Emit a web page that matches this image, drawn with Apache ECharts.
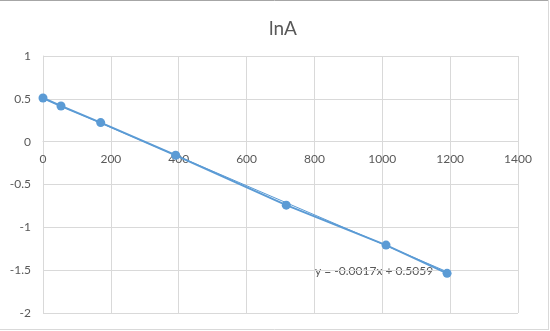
<!DOCTYPE html>
<html>
<head>
<meta charset="utf-8">
<script src="https://cdn.jsdelivr.net/npm/echarts@6/dist/echarts.min.js"></script>
<style>
  html, body { margin: 0; padding: 0; background: #fff; }
  #chart { width: 550px; height: 331px; }
</style>
</head>
<body>
<div id="chart"></div>
<script>
// Time (x) and lnA (y) measurements
const timeValues = [0, 53, 170, 391, 717, 1011, 1191];
const lnAValues = [0.51, 0.416, 0.223, -0.159, -0.741, -1.207, -1.537];

// Linear fit shown on the chart
const slope = -0.0017;
const intercept = 0.5059;
const fitLabel = 'y = -0.0017x + 0.5059';

const points = timeValues.map((t, i) => [t, lnAValues[i]]);
const tMin = timeValues[0];
const tMax = timeValues[timeValues.length - 1];
const fitLine = [[tMin, slope * tMin + intercept], [tMax, slope * tMax + intercept]];

const blue = '#5B9BD5';
const textColor = '#595959';
const gridColor = '#d9d9d9';
const font = 'Lato, "Open Sans", sans-serif';

const yMin = -2, yMax = 1;
const gridHeight = 257;
// The x axis crosses the y axis at zero: shift it up from the bottom edge
const xAxisOffset = -gridHeight * (0 - yMin) / (yMax - yMin);

const chart = echarts.init(document.getElementById('chart'), null, { renderer: 'canvas' });
chart.setOption({
  animation: false,
  backgroundColor: '#fff',
  title: {
    text: 'lnA',
    left: 278,
    top: 14,
    textAlign: 'center',
    textStyle: { color: textColor, fontSize: 19, fontWeight: 'normal', fontFamily: font }
  },
  grid: { left: 43, top: 56, width: 475, height: gridHeight, containLabel: false },
  xAxis: {
    type: 'value',
    position: 'bottom',
    offset: xAxisOffset,
    min: 0, max: 1400, interval: 200,
    axisLine: { show: true, onZero: false, lineStyle: { color: gridColor, width: 1 } },
    axisTick: { show: false },
    axisLabel: { color: textColor, fontSize: 12, fontFamily: font, margin: 11, formatter: v => String(v) },
    splitLine: { show: true, lineStyle: { color: gridColor, width: 1 } }
  },
  yAxis: {
    type: 'value',
    min: yMin, max: yMax, interval: 0.5,
    axisLine: { show: true, onZero: false, lineStyle: { color: gridColor, width: 1 } },
    axisTick: { show: false },
    axisLabel: { color: textColor, fontSize: 12, fontFamily: font, margin: 12 },
    splitLine: { show: true, lineStyle: { color: gridColor, width: 1 } }
  },
  series: [
    {
      type: 'line',
      data: points,
      symbol: 'circle',
      symbolSize: 9,
      lineStyle: { color: blue, width: 2 },
      itemStyle: { color: blue },
      z: 3
    },
    {
      type: 'line',
      data: fitLine,
      symbol: 'none',
      lineStyle: { color: blue, width: 1 },
      z: 2
    }
  ],
  graphic: [
    {
      type: 'text',
      left: 315,
      top: 265,
      style: { text: fitLabel, fill: textColor, fontSize: 12, fontFamily: font }
    },
    { type: 'line', shape: { x1: 0, y1: 0.5, x2: 549, y2: 0.5 }, style: { stroke: '#a6a6a6', lineWidth: 1 } },
    { type: 'line', shape: { x1: 548.5, y1: 0, x2: 548.5, y2: 329 }, style: { stroke: '#d9d9d9', lineWidth: 1 } },
    { type: 'line', shape: { x1: 0, y1: 329.5, x2: 549, y2: 329.5 }, style: { stroke: '#d9d9d9', lineWidth: 1 } }
  ]
});
</script>
</body>
</html>
